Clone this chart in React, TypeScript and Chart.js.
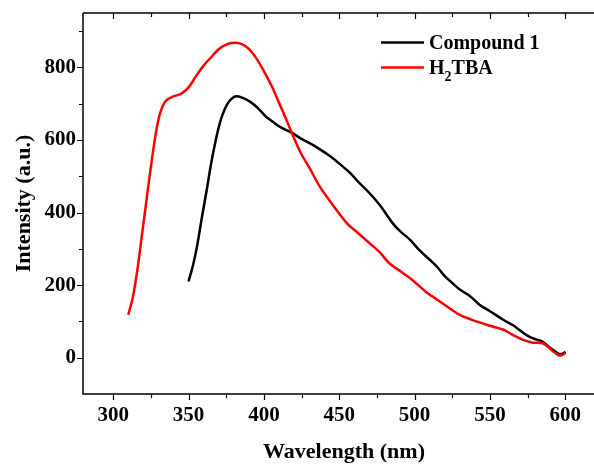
import React, { useEffect, useRef } from "react";
import { Chart, registerables } from "chart.js";

Chart.register(...registerables);

// ---- data ----
const compoundWavelengths = [350, 353, 356, 359, 362, 365, 368, 371, 374, 377, 381, 386, 391, 396, 401, 406, 410, 415, 419, 425, 430, 437, 444, 450, 457, 463, 470, 477, 485, 490, 497, 503, 510, 515, 520, 525, 530, 537, 543, 550, 559, 565, 570, 576, 581, 585, 589, 592, 595, 597, 599, 600];
const compoundIntensity = [210, 255, 315, 390, 460, 535, 598, 650, 685, 707, 720, 716, 705, 688, 666, 650, 638, 627, 619, 603, 592, 575, 555, 535, 510, 483, 454, 420, 373, 350, 325, 297, 270, 250, 225, 206, 188, 169, 146, 128, 104, 90, 75, 58, 50, 44, 30, 21, 12, 10, 13, 17];

const h2tbaWavelengths = [310, 313, 316, 319, 322, 325, 328, 331, 335, 340, 345, 350, 355, 360, 365, 370, 375, 380, 385, 390, 395, 400, 405, 410, 415, 420, 425, 430, 437, 445, 455, 462, 470, 477, 483, 490, 497, 503, 508, 515, 523, 530, 541, 550, 559, 565, 572, 578, 585, 589, 592, 595, 597, 599, 600];
const h2tbaIntensity = [118, 165, 240, 335, 430, 525, 610, 672, 708, 720, 727, 745, 776, 805, 828, 850, 863, 868, 865, 851, 825, 790, 750, 703, 655, 605, 560, 525, 472, 425, 371, 345, 316, 290, 261, 240, 219, 198, 180, 160, 137, 118, 100, 88, 77, 63, 49, 42, 40, 28, 17, 8, 6, 10, 14];

const seriesLabels = ["Compound 1", "H2TBA"];
const seriesColors = ["#000000", "#ff0000"];

const xTickValues = [300, 350, 400, 450, 500, 550, 600];
const xMinorTickValues = [325, 375, 425, 475, 525, 575];
const yTickValues = [0, 200, 400, 600, 800];
const yMinorTickValues = [100, 300, 500, 700, 900];

const xAxisTitle = "Wavelength (nm)";
const yAxisTitle = "Intensity (a.u.)";

const FONT = "'Liberation Serif', 'Times New Roman', serif";

const framePlugin = {
  id: "frame",
  afterDraw(chart: any) {
    const { ctx, chartArea: a, scales } = chart;
    const xs = scales.x;
    const ys = scales.y;
    ctx.save();
    ctx.strokeStyle = "#000";
    ctx.lineWidth = 1.5;
    ctx.beginPath();
    ctx.moveTo(a.left, a.top);
    ctx.lineTo(a.right + 2, a.top);
    ctx.moveTo(a.left, a.top);
    ctx.lineTo(a.left, a.bottom);
    ctx.lineTo(a.right + 2, a.bottom);
    ctx.stroke();

    ctx.lineWidth = 1.2;
    ctx.beginPath();
    const xTick = (v: number, len: number) => {
      const px = Math.round(xs.getPixelForValue(v)) + 0.5;
      ctx.moveTo(px, a.bottom);
      ctx.lineTo(px, a.bottom + len);
      ctx.moveTo(px, a.top);
      ctx.lineTo(px, a.top + len);
    };
    xTickValues.forEach((v) => xTick(v, 6));
    xMinorTickValues.forEach((v) => xTick(v, 4));
    const yTick = (v: number, len: number) => {
      const py = Math.round(ys.getPixelForValue(v)) + 0.5;
      ctx.moveTo(a.left, py);
      ctx.lineTo(a.left - len, py);
    };
    yTickValues.forEach((v) => yTick(v, 6));
    yMinorTickValues.forEach((v) => yTick(v, 4));
    ctx.stroke();

    // axis titles
    ctx.fillStyle = "#000";
    ctx.font = `bold 22px ${FONT}`;
    ctx.textAlign = "center";
    ctx.textBaseline = "middle";
    ctx.fillText(xAxisTitle, 344, 452);
    ctx.save();
    ctx.translate(24, (a.top + a.bottom) / 2);
    ctx.rotate(-Math.PI / 2);
    ctx.fillText(yAxisTitle, 0, 0);
    ctx.restore();

    // legend
    const legendX = 381;
    const legendY = [42.5, 67.5];
    chart.data.datasets.forEach((ds: any) => {
      const idx = seriesLabels.indexOf(ds.label);
      const y = legendY[idx];
      ctx.strokeStyle = ds.borderColor;
      ctx.lineWidth = 2.5;
      ctx.beginPath();
      ctx.moveTo(legendX, y);
      ctx.lineTo(legendX + 43, y);
      ctx.stroke();
      ctx.fillStyle = "#000";
      ctx.textAlign = "left";
      ctx.textBaseline = "alphabetic";
      const label: string = ds.label;
      let tx = legendX + 48;
      const base = y + 6.5;
      const m = label.match(/^([A-Za-z]+)(\d)(.*)$/);
      if (m && idx === 1) {
        ctx.font = `bold 20px ${FONT}`;
        ctx.fillText(m[1], tx, base);
        tx += ctx.measureText(m[1]).width;
        ctx.font = `bold 14px ${FONT}`;
        ctx.fillText(m[2], tx, base + 7);
        tx += ctx.measureText(m[2]).width;
        ctx.font = `bold 20px ${FONT}`;
        ctx.fillText(m[3], tx, base);
      } else {
        ctx.font = `bold 20px ${FONT}`;
        ctx.fillText(label, tx, base);
      }
    });
    ctx.restore();
  },
};

export default function App() {
  const canvasRef = useRef<HTMLCanvasElement | null>(null);

  useEffect(() => {
    if (!canvasRef.current) return;
    const compoundData = compoundWavelengths.map((x, i) => ({ x, y: compoundIntensity[i] }));
    const h2tbaData = h2tbaWavelengths.map((x, i) => ({ x, y: h2tbaIntensity[i] }));
    const chart = new Chart(canvasRef.current, {
      type: "line",
      data: {
        datasets: [
          {
            label: seriesLabels[0],
            data: compoundData,
            borderColor: seriesColors[0],
            backgroundColor: seriesColors[0],
            borderWidth: 2.5,
            pointRadius: 0,
            tension: 0.35,
            order: 1,
          },
          {
            label: seriesLabels[1],
            data: h2tbaData,
            borderColor: seriesColors[1],
            backgroundColor: seriesColors[1],
            borderWidth: 2.5,
            pointRadius: 0,
            tension: 0.35,
            order: 0,
          },
        ],
      },
      options: {
        animation: false,
        responsive: false,
        maintainAspectRatio: false,
        layout: { padding: { top: 13, left: 0, right: 0, bottom: 0 } },
        plugins: {
          legend: { display: false },
          tooltip: { enabled: false },
          title: { display: false },
        },
        scales: {
          x: {
            type: "linear",
            min: 280,
            max: 619,
            grid: { display: false, drawTicks: false },
            border: { display: false },
            ticks: {
              color: "#000",
              padding: 9,
              autoSkip: false,
              maxRotation: 0,
              font: { family: FONT, size: 21, weight: "bold" },
            },
            afterBuildTicks: (scale: any) => {
              scale.ticks = xTickValues.map((v) => ({ value: v }));
            },
            afterFit: (scale: any) => {
              scale.height = 72;
              scale.paddingLeft = 0;
              scale.paddingRight = 0;
            },
          },
          y: {
            type: "linear",
            min: -100,
            max: 950,
            grid: { display: false, drawTicks: false },
            border: { display: false },
            ticks: {
              color: "#000",
              padding: 7,
              font: { family: FONT, size: 21, weight: "bold" },
            },
            afterBuildTicks: (scale: any) => {
              scale.ticks = yTickValues.map((v) => ({ value: v }));
            },
            afterFit: (scale: any) => {
              scale.width = 83;
              scale.paddingTop = 0;
              scale.paddingBottom = 0;
            },
          },
        },
      },
      plugins: [framePlugin],
    });
    return () => chart.destroy();
  }, []);

  return (
    <div
      style={{
        position: "fixed",
        left: 0,
        top: 0,
        width: 594,
        height: 466,
        overflow: "hidden",
        background: "#fff",
      }}
    >
      <canvas ref={canvasRef} width={594} height={466} style={{ display: "block" }} />
    </div>
  );
}
